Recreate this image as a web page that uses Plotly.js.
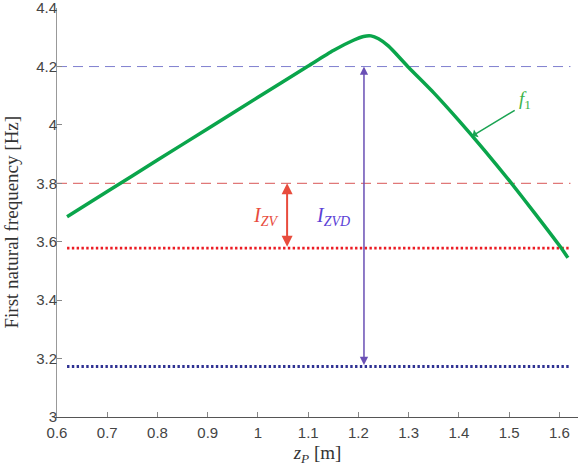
<!DOCTYPE html>
<html>
<head>
<meta charset="utf-8">
<script src="https://cdn.plot.ly/plotly-3.0.1.min.js"></script>
<style>
  html, body { margin: 0; padding: 0; background: #fff; }
  #chart { width: 581px; height: 468px; }
</style>
</head>
<body>
<div id="chart"></div>
<script>
// First natural frequency f1 against platform position zP
const zP = [0.62, 0.70, 0.80, 0.90, 1.00, 1.10, 1.15, 1.19, 1.21, 1.225, 1.24, 1.26,
            1.30, 1.35, 1.40, 1.45, 1.50, 1.55, 1.60, 1.617];
const f1 = [3.686, 3.772, 3.880, 3.987, 4.095, 4.202, 4.255, 4.290, 4.303, 4.305, 4.295, 4.270,
            4.197, 4.110, 4.015, 3.915, 3.810, 3.700, 3.587, 3.545];

// reference levels
const zRange = [0.62, 1.622];
const dashRange = [0.6, 1.622];
const limitZV = 3.8;      // red dashed
const limitZVD = 4.2;     // blue dashed
const levelZV = 3.578;    // red dotted
const levelZVD = 3.173;   // blue dotted

// interval arrows
const arrowZVx = 1.058;
const arrowZVDx = 1.211;

const xTicks = [0.6, 0.7, 0.8, 0.9, 1.0, 1.1, 1.2, 1.3, 1.4, 1.5, 1.6];
const xTickText = ['0.6', '0.7', '0.8', '0.9', '1', '1.1', '1.2', '1.3', '1.4', '1.5', '1.6'];
const yTicks = [3, 3.2, 3.4, 3.6, 3.8, 4, 4.2, 4.4];
const yTickText = ['3', '3.2', '3.4', '3.6', '3.8', '4', '4.2', '4.4'];

const serif = 'Liberation Serif, DejaVu Serif, serif';
const sans = 'Liberation Sans, Arial, sans-serif';

const traces = [
    {
        x: dashRange, y: [limitZVD, limitZVD], mode: 'lines', type: 'scatter',
        line: { color: '#7f7fcf', width: 1, dash: '10px,6px' }, hoverinfo: 'skip'
    },
    {
        x: dashRange, y: [limitZV, limitZV], mode: 'lines', type: 'scatter',
        line: { color: '#e07878', width: 1.3, dash: '10px,6px' }, hoverinfo: 'skip'
    },
    {
        x: zRange, y: [levelZV, levelZV], mode: 'lines', type: 'scatter',
        line: { color: '#ec1c24', width: 2.8, dash: '2.4px,2.4px' }, hoverinfo: 'skip'
    },
    {
        x: zRange, y: [levelZVD, levelZVD], mode: 'lines', type: 'scatter',
        line: { color: '#2e3192', width: 2.8, dash: '2.4px,2.4px' }, hoverinfo: 'skip'
    },
    {
        x: zP, y: f1, mode: 'lines', type: 'scatter', name: 'f1',
        line: { color: '#0aa54b', width: 3.5, shape: 'spline', smoothing: 0.6 }
    }
];

function doubleArrow(x, y0, y1, color, width) {
    return {
        x: x, y: y1, ax: x, ay: y0, xref: 'x', yref: 'y', axref: 'x', ayref: 'y',
        text: '', showarrow: true, arrowside: 'end+start', arrowhead: 2,
        arrowsize: 1.1, arrowwidth: width, arrowcolor: color, standoff: 0, startstandoff: 0
    };
}

const layout = {
    width: 581,
    height: 468,
    showlegend: false,
    paper_bgcolor: '#ffffff',
    plot_bgcolor: '#ffffff',
    margin: { l: 57, r: 3, t: 8, b: 51 },
    xaxis: {
        range: [0.6, 1.637],
        tickvals: xTicks,
        ticktext: xTickText,
        ticks: 'inside',
        ticklen: 5,
        tickcolor: '#888',
        showline: true,
        linecolor: '#555',
        linewidth: 1,
        showgrid: false,
        zeroline: false,
        ticklabelstandoff: 2,
        tickfont: { family: sans, size: 15, color: '#444' },
        title: {
            text: '<i>z</i><sub><i>P</i></sub> [m]',
            font: { family: serif, size: 19, color: '#333' },
            standoff: 5
        }
    },
    yaxis: {
        range: [3, 4.4005],
        tickvals: yTicks,
        ticktext: yTickText,
        ticks: 'inside',
        ticklen: 5,
        tickcolor: '#888',
        showline: true,
        linecolor: '#999',
        linewidth: 1,
        showgrid: false,
        zeroline: false,
        ticklabelstandoff: -4,
        ticklabeloverflow: 'allow',
        tickfont: { family: sans, size: 15, color: '#444' }
    },
    annotations: [
        {
            text: 'First natural frequency [Hz]',
            xref: 'paper', yref: 'paper', x: 0, y: 0.5, xshift: -46, yshift: -10,
            xanchor: 'center', yanchor: 'middle', textangle: -90, showarrow: false,
            font: { family: serif, size: 19, color: '#333' }
        },
        doubleArrow(arrowZVx, levelZV, limitZV, '#e84c3d', 2),
        doubleArrow(arrowZVDx, levelZVD, limitZVD, '#6a4fb5', 1.5),
        {
            x: 1.014, y: 3.686, xref: 'x', yref: 'y', showarrow: false,
            text: '<i>I</i><sub><i>ZV</i></sub>',
            font: { family: serif, size: 20, color: '#e84c3d' }
        },
        {
            x: 1.15, y: 3.686, xref: 'x', yref: 'y', showarrow: false,
            text: '<i>I</i><sub><i>ZVD</i></sub>',
            font: { family: serif, size: 20, color: '#5b3fd6' }
        },
        {
            x: 1.427, y: 3.963, ax: 1.514, ay: 4.053, xref: 'x', yref: 'y', axref: 'x', ayref: 'y',
            text: '', showarrow: true, arrowhead: 1, arrowsize: 1, arrowwidth: 1.5,
            arrowcolor: '#1aa352', standoff: 0
        },
        {
            x: 1.531, y: 4.087, xref: 'x', yref: 'y', showarrow: false,
            text: '<i>f</i><sub>1</sub>',
            font: { family: serif, size: 19, color: '#3cb34a' }
        }
    ]
};

Plotly.newPlot('chart', traces, layout, { displayModeBar: false, staticPlot: true });
</script>
</body>
</html>
